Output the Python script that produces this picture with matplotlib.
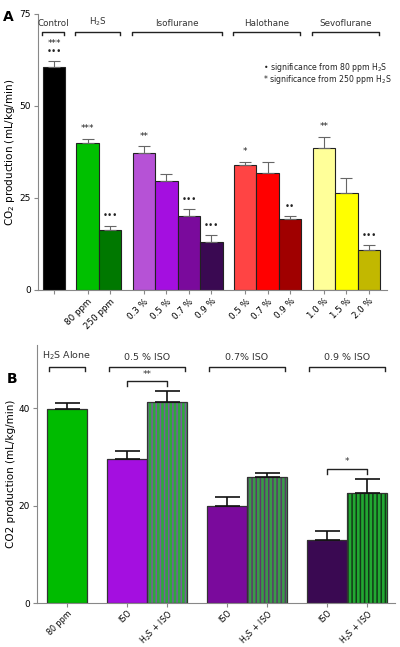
import matplotlib
matplotlib.use("Agg")
import matplotlib.pyplot as plt

# ---------------- Panel A data ----------------
a_labels = ["", "80 ppm", "250 ppm", "0.3 %", "0.5 %", "0.7 %", "0.9 %",
            "0.5 %", "0.7 %", "0.9 %", "1.0 %", "1.5 %", "2.0 %"]
a_values = [60.5, 40.0, 16.3, 37.2, 29.7, 20.1, 13.0, 34.0, 31.9, 19.3, 38.6, 26.4, 10.9]
a_errors = [1.6, 1.1, 1.1, 1.9, 1.8, 1.9, 1.9, 0.9, 3.0, 0.7, 3.0, 4.0, 1.3]
a_colors = ["#000000", "#00c000", "#007800", "#b652d6", "#a40fe0", "#7a0a9c",
            "#3a0952", "#ff4444", "#ff0000", "#a00000", "#ffff99", "#ffff00", "#c2b800"]
a_pos = [0, 1.5, 2.5, 4, 5, 6, 7, 8.5, 9.5, 10.5, 12, 13, 14]
a_sig = ["***\n•••", "***", "•••", "**", "", "•••", "•••", "*", "", "••", "**", "", "•••"]
a_groups = ["Control", "H$_2$S", "Isoflurane", "Halothane", "Sevoflurane"]
a_group_span = [(0, 0), (1.5, 2.5), (4, 7), (8.5, 10.5), (12, 14)]
a_yticks = [0, 25, 50, 75]

# ---------------- Panel B data ----------------
b_labels = ["80 ppm", "ISO", "H$_2$S + ISO", "ISO", "H$_2$S + ISO", "ISO", "H$_2$S + ISO"]
b_values = [39.8, 29.6, 41.3, 20.0, 25.8, 12.9, 22.5]
b_errors = [1.2, 1.7, 2.2, 1.8, 0.9, 1.9, 2.9]
b_colors = ["#00bb00", "#a40fe0", "#2ea83a", "#7a0a9c", "#3a9a48", "#3a0952", "#22a832"]
b_hatched = [False, False, True, False, True, False, True]
b_hatch_colors = ["none", "none", "#7a5c9e", "none", "#5a3a6a", "none", "#123a18"]
b_pos = [0, 1.5, 2.5, 4, 5, 6.5, 7.5]
b_groups = ["H$_2$S Alone", "0.5 % ISO", "0.7% ISO", "0.9 % ISO"]
b_group_span = [(0, 0), (1.5, 2.5), (4, 5), (6.5, 7.5)]
b_sig_pairs = [(1.5, 2.5, "**", 45.5), (6.5, 7.5, "*", 27.5)]
b_yticks = [0, 20, 40]

plt.rcParams['font.family'] = ['DejaVu Sans']
plt.rcParams['hatch.linewidth'] = 1.1

fig = plt.figure(figsize=(4.0, 6.47), dpi=100)
axis_gray = "#888888"

# ---------------- Panel A ----------------
axA = fig.add_axes([0.095, 0.5518, 0.8725, 0.4266])
axA.bar(a_pos, a_values, width=1.0, color=a_colors, edgecolor="#222222", linewidth=0.8, zorder=2)
axA.errorbar(a_pos, a_values, yerr=[[0]*len(a_errors), a_errors], fmt="none",
             ecolor="#666666", elinewidth=0.8, capsize=4, capthick=0.8, zorder=3)
for p, v, e, s in zip(a_pos, a_values, a_errors, a_sig):
    if s:
        axA.text(p, v + e + 1.5, s, ha="center", va="bottom", fontsize=6.3,
                 color="#222222", linespacing=0.9)
axA.set_xlim(-0.71, 14.8)
axA.set_ylim(0, 75)
axA.set_yticks(a_yticks)
axA.set_xticks(a_pos)
axA.set_xticklabels(a_labels, rotation=45, ha="right", rotation_mode="anchor", fontsize=6.3)
axA.tick_params(axis="y", labelsize=6.5, length=3, color=axis_gray, pad=2)
axA.tick_params(axis="x", length=3, color=axis_gray, pad=2)
for sp in ["top", "right"]:
    axA.spines[sp].set_visible(False)
for sp in ["left", "bottom"]:
    axA.spines[sp].set_color(axis_gray)
    axA.spines[sp].set_linewidth(0.8)
axA.set_ylabel("CO$_2$ production (mL/kg/min)", fontsize=7.5, labelpad=2)
# group brackets
for name, (s, e) in zip(a_groups, a_group_span):
    x0, x1 = s - 0.55, e + 0.45
    yb = 70.0
    axA.plot([x0, x0, x1, x1], [yb - 0.8, yb, yb, yb - 0.8], color="#222222",
             lw=1.0, clip_on=False)
    axA.text((x0 + x1) / 2, yb + 1.3, name, ha="center", va="bottom", fontsize=6.3, color="#333333")
axA.text(9.3, 60.5, "• significance from 80 ppm H$_2$S", fontsize=5.6, color="#222222",
         ha="left", va="center")
axA.text(9.3, 57.1, "* significance from 250 ppm H$_2$S", fontsize=5.6, color="#222222",
         ha="left", va="center")
fig.text(0.008, 0.985, "A", fontsize=10, fontweight="bold", va="top")

# ---------------- Panel B ----------------
axB = fig.add_axes([0.0925, 0.068, 0.895, 0.3988])
for p, v, c, h, hc in zip(b_pos, b_values, b_colors, b_hatched, b_hatch_colors):
    axB.bar(p, v, width=1.0, color=c, edgecolor="none", zorder=2)
    if h:
        axB.bar(p, v, width=1.0, color="none", edgecolor=hc, hatch="||||",
                linewidth=0, zorder=2.5)
    axB.bar(p, v, width=1.0, color="none", edgecolor="#333333", linewidth=0.9, zorder=2.6)
axB.errorbar(b_pos, b_values, yerr=[[0]*len(b_errors), b_errors], fmt="none",
             ecolor="#111111", elinewidth=1.2, capsize=9, capthick=1.2, zorder=3)
axB.set_xlim(-0.75, 8.2)
axB.set_ylim(0, 53)
axB.set_yticks(b_yticks)
axB.set_xticks(b_pos)
axB.set_xticklabels(b_labels, rotation=45, ha="right", rotation_mode="anchor", fontsize=5.8)
axB.tick_params(axis="y", labelsize=6.5, length=3, color=axis_gray, pad=2)
axB.tick_params(axis="x", length=3, color=axis_gray, pad=1)
for sp in ["top", "right"]:
    axB.spines[sp].set_visible(False)
for sp in ["left", "bottom"]:
    axB.spines[sp].set_color(axis_gray)
    axB.spines[sp].set_linewidth(0.8)
axB.set_ylabel("CO2 production (mL/kg/min)", fontsize=7.5, labelpad=2)
for name, (s, e) in zip(b_groups, b_group_span):
    x0, x1 = s - 0.45, e + 0.45
    yb = 48.5
    axB.plot([x0, x0, x1, x1], [yb - 0.9, yb, yb, yb - 0.9], color="#222222",
             lw=1.0, clip_on=False)
    axB.text((x0 + x1) / 2, yb + 1.0, name, ha="center", va="bottom", fontsize=6.8, color="#333333")
for s, e, t, yb in b_sig_pairs:
    axB.plot([s, s, e, e], [yb - 0.9, yb, yb, yb - 0.9], color="#222222", lw=1.0)
    axB.text((s + e) / 2, yb + 0.6, t, ha="center", va="bottom", fontsize=6.3, color="#333333")
fig.text(0.018, 0.425, "B", fontsize=10, fontweight="bold", va="top")

fig.savefig("out.png", dpi=100)
